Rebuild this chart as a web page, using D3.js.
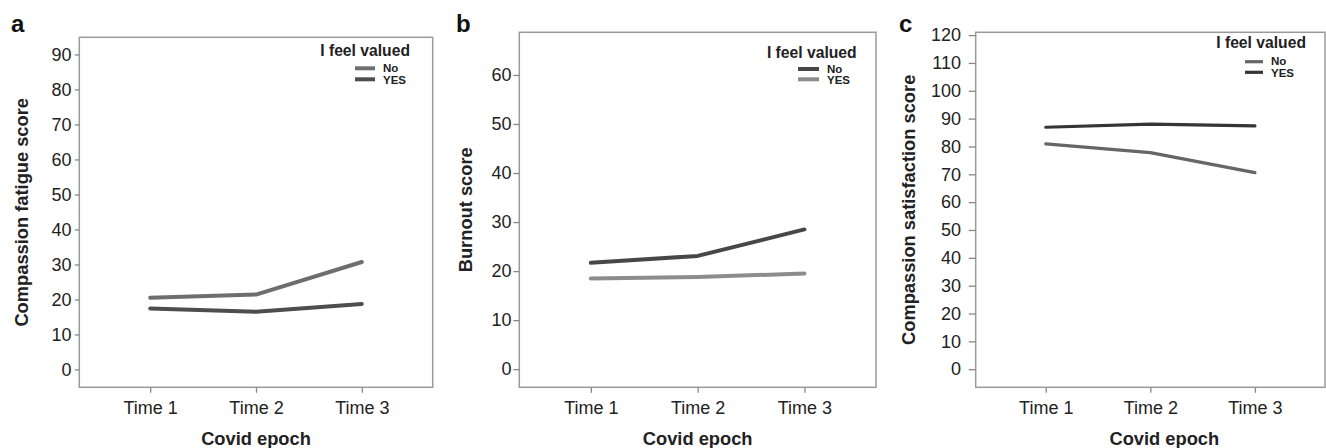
<!DOCTYPE html>
<html>
<head>
<meta charset="utf-8">
<script src="https://cdn.jsdelivr.net/npm/d3@7"></script>
<style>
  html, body { margin: 0; padding: 0; background: #fff; }
  svg { display: block; font-family: "Liberation Sans", Arial, Helvetica, sans-serif; }
</style>
</head>
<body>
<svg id="chart" width="1326" height="448"></svg>
<script>
// ---- data ----
const epochs = ["Time 1", "Time 2", "Time 3"];
const groups = ["No", "YES"];

const fatigueNo  = [20.5, 21.4, 30.7];
const fatigueYes = [17.4, 16.5, 18.7];

const burnoutNo  = [21.7, 23.1, 28.5];
const burnoutYes = [18.5, 18.8, 19.5];

const satisfactionNo  = [80.9, 77.8, 70.6];
const satisfactionYes = [86.9, 88.0, 87.4];

const ticksA = [0, 10, 20, 30, 40, 50, 60, 70, 80, 90];
const ticksB = [0, 10, 20, 30, 40, 50, 60];
const ticksC = [0, 10, 20, 30, 40, 50, 60, 70, 80, 90, 100, 110, 120];

const panelLetters = ["a", "b", "c"];
const yTitles = ["Compassion fatigue score", "Burnout score", "Compassion satisfaction score"];
const xTitle = "Covid epoch";
const legendTitle = "I feel valued";

// ---- layout (positions / styles) ----
const panels = [
  { letter: panelLetters[0], title: yTitles[0], no: fatigueNo, yes: fatigueYes, ticks: ticksA,
    domain: [-5.1, 94.9], left: 79.3, top: 37.3, right: 432.7, bottom: 387.3,
    tickLen: 4.5, labelGap: 3.2, titleX: 21, letterX: 11, colors: ["#6e6e6e", "#4e4e4e"], lw: 4,
    legTitleY: 56, legY: [68.3, 79.3], legLineX: [355, 375], legRightPad: 22.7 },
  { letter: panelLetters[1], title: yTitles[1], no: burnoutNo, yes: burnoutYes, ticks: ticksB,
    domain: [-3.7, 68.7], left: 519.3, top: 32.3, right: 876, bottom: 387.3,
    tickLen: 6, labelGap: 1.7, titleX: 465, letterX: 456, colors: ["#474747", "#8c8c8c"], lw: 4,
    legTitleY: 58.3, legY: [69, 79.3], legLineX: [798, 819], legRightPad: 19.3 },
  { letter: panelLetters[2], title: yTitles[2], no: satisfactionNo, yes: satisfactionYes, ticks: ticksC,
    domain: [-6.5, 121], left: 975.7, top: 32.3, right: 1325, bottom: 387.3,
    tickLen: 7, labelGap: 7.7, titleX: 908, letterX: 899, colors: ["#666666", "#353535"], lw: 3.2,
    legTitleY: 48.3, legY: [61.7, 72.3], legLineX: [1245, 1263], legRightPad: 19 }
];

const svg = d3.select("#chart");
const textColor = "#222";

panels.forEach(p => {
  const g = svg.append("g");
  const x = d3.scalePoint().domain(epochs).range([p.left, p.right]).padding(0.67);
  const y = d3.scaleLinear().domain(p.domain).range([p.bottom, p.top]);

  // frame
  g.append("rect")
    .attr("x", p.left).attr("y", p.top)
    .attr("width", p.right - p.left).attr("height", p.bottom - p.top)
    .attr("fill", "none").attr("stroke", "#9a9a9a").attr("stroke-width", 1.5);

  // y axis
  const yAxis = g.append("g")
    .attr("transform", `translate(${p.left},0)`)
    .call(d3.axisLeft(y).tickValues(p.ticks).tickSize(p.tickLen).tickPadding(7.5).tickFormat(d3.format("d")));
  yAxis.select(".domain").remove();
  yAxis.selectAll(".tick line").attr("stroke", "#888").attr("stroke-width", 1.3);
  yAxis.selectAll(".tick text")
    .attr("fill", textColor).attr("font-size", 18).attr("font-family", null)
    .attr("x", -(p.tickLen + p.labelGap));

  // x axis
  const xAxis = g.append("g")
    .attr("transform", `translate(0,${p.bottom})`)
    .call(d3.axisBottom(x).tickSize(5.5).tickPadding(6));
  xAxis.select(".domain").remove();
  xAxis.selectAll(".tick line").attr("stroke", "#888").attr("stroke-width", 1.3);
  xAxis.selectAll(".tick text")
    .attr("fill", textColor).attr("font-size", 18).attr("font-family", null)
    .attr("dy", null).attr("y", 26.5);

  // axis titles
  g.append("text")
    .attr("x", (p.left + p.right) / 2 + (p.letter === "c" ? 14 : 0)).attr("y", 445)
    .attr("text-anchor", "middle").attr("font-weight", "bold").attr("font-size", 18.3)
    .attr("fill", textColor).text(xTitle);
  g.append("text")
    .attr("transform", `translate(${p.titleX + 6.5},${(p.top + p.bottom) / 2}) rotate(-90)`)
    .attr("text-anchor", "middle").attr("font-weight", "bold").attr("font-size", 18.3)
    .attr("fill", textColor).text(p.title);

  // panel letter
  g.append("text")
    .attr("x", p.letterX).attr("y", 31.5)
    .attr("font-weight", "bold").attr("font-size", 24)
    .attr("fill", "#111").text(p.letter);

  // lines
  const line = d3.line().x((d, i) => x(epochs[i])).y(d => y(d));
  [p.no, p.yes].forEach((vals, k) => {
    g.append("path").datum(vals)
      .attr("d", line).attr("fill", "none")
      .attr("stroke", p.colors[k]).attr("stroke-width", p.lw)
      .attr("stroke-linejoin", "round").attr("stroke-linecap", "round");
  });

  // legend
  const lg = g.append("g");
  lg.append("text")
    .attr("x", p.right - p.legRightPad).attr("y", p.legTitleY)
    .attr("text-anchor", "end").attr("font-weight", "bold").attr("font-size", 15.7)
    .attr("fill", textColor).text(legendTitle);
  groups.forEach((grp, k) => {
    lg.append("line")
      .attr("x1", p.legLineX[0]).attr("x2", p.legLineX[1])
      .attr("y1", p.legY[k]).attr("y2", p.legY[k])
      .attr("stroke", p.colors[k]).attr("stroke-width", p.lw);
    lg.append("text")
      .attr("x", p.legLineX[1] + 8).attr("y", p.legY[k] + (k === 0 ? 3.5 : 5))
      .attr("font-weight", "bold").attr("font-size", 11.5)
      .attr("fill", textColor).text(grp);
  });
});
</script>
</body>
</html>
